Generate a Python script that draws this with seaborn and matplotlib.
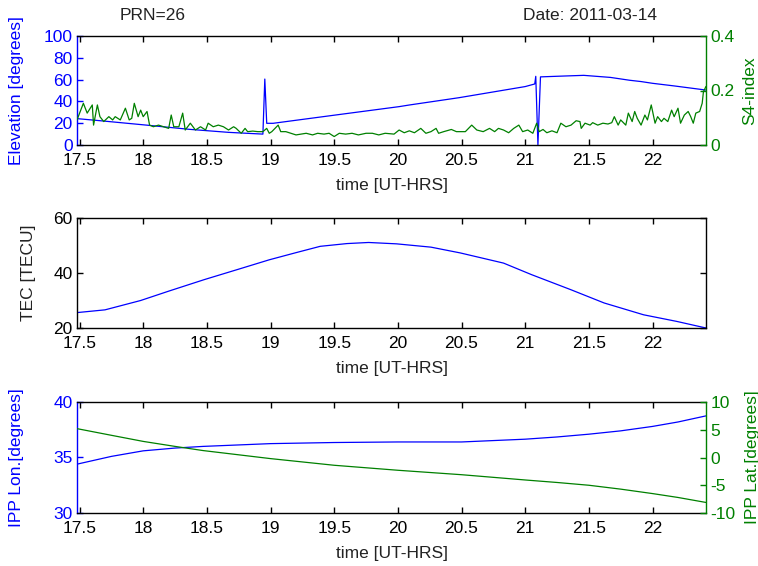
import matplotlib
matplotlib.use("Agg")
import matplotlib.pyplot as plt
import seaborn as sns

# ---- labels -------------------------------------------------------------
prn_label = "PRN=26"
date_label = "Date: 2011-03-14"
x_label = "time [UT-HRS]"
x_ticks = [17.5, 18, 18.5, 19, 19.5, 20, 20.5, 21, 21.5, 22]

# ---- satellite elevation (degrees) --------------------------------------
elev_time = [17.48, 17.66, 18.02, 18.36, 18.67, 18.94, 18.955, 18.97,
             19.02, 19.51, 20.01, 20.09, 20.48, 21.0, 21.075, 21.083,
             21.10, 21.12, 21.31, 21.46, 21.67, 21.82, 21.91, 22.0,
             22.17, 22.42]
elev_deg = [24.2, 22.3, 18.3, 14.4, 11.6, 10.0, 60.5, 19.9,
            19.9, 27.5, 35.2, 36.7, 43.4, 53.6, 56.0, 63.0,
            0.0, 62.5, 63.3, 63.9, 62.0, 59.4, 58.2, 56.6,
            54.2, 50.4]

# ---- S4 scintillation index ----------------------------------------------
s4_time = [17.48, 17.53, 17.56, 17.60, 17.61, 17.64, 17.66, 17.69, 17.73,
           17.76, 17.78, 17.82, 17.86, 17.89, 17.91, 17.93, 17.96, 17.98,
           18.00, 18.03, 18.05, 18.08, 18.12, 18.16, 18.20, 18.22, 18.24,
           18.28, 18.31, 18.33, 18.37, 18.41, 18.45, 18.49, 18.51, 18.55,
           18.59, 18.63, 18.67, 18.71, 18.73, 18.77, 18.80, 18.82, 18.86,
           18.90, 18.94, 18.97, 18.99, 19.01, 19.06, 19.08, 19.12, 19.16,
           19.20, 19.24, 19.28, 19.33, 19.37, 19.42, 19.46, 19.50, 19.54,
           19.59, 19.64, 19.69, 19.75, 19.80, 19.85, 19.90, 19.97, 20.01,
           20.05, 20.09, 20.13, 20.18, 20.22, 20.26, 20.30, 20.32, 20.36,
           20.42, 20.46, 20.53, 20.58, 20.62, 20.67, 20.72, 20.76, 20.79,
           20.83, 20.87, 20.91, 20.95, 20.98, 21.02, 21.06, 21.09, 21.11,
           21.14, 21.17, 21.21, 21.25, 21.28, 21.32, 21.36, 21.40, 21.43,
           21.44, 21.47, 21.51, 21.53, 21.57, 21.61, 21.65, 21.68, 21.70,
           21.73, 21.75, 21.79, 21.81, 21.84, 21.86, 21.88, 21.91, 21.94,
           21.96, 21.99, 22.02, 22.04, 22.07, 22.09, 22.12, 22.15, 22.17,
           22.20, 22.22, 22.25, 22.28, 22.30, 22.32, 22.34, 22.37, 22.39,
           22.40, 22.42]
s4_val = [0.092, 0.153, 0.117, 0.147, 0.073, 0.147, 0.104, 0.086, 0.104,
          0.092, 0.104, 0.092, 0.135, 0.092, 0.098, 0.153, 0.104, 0.128,
          0.104, 0.123, 0.073, 0.067, 0.073, 0.067, 0.061, 0.110, 0.067,
          0.067, 0.117, 0.055, 0.080, 0.055, 0.067, 0.055, 0.080, 0.067,
          0.073, 0.067, 0.055, 0.067, 0.061, 0.043, 0.061, 0.049, 0.051,
          0.049, 0.049, 0.061, 0.043, 0.049, 0.073, 0.049, 0.049, 0.043,
          0.037, 0.040, 0.043, 0.037, 0.043, 0.040, 0.043, 0.031, 0.043,
          0.040, 0.043, 0.037, 0.043, 0.043, 0.037, 0.043, 0.040, 0.055,
          0.045, 0.052, 0.045, 0.061, 0.043, 0.049, 0.061, 0.043, 0.049,
          0.057, 0.049, 0.049, 0.073, 0.055, 0.049, 0.061, 0.049, 0.061,
          0.055, 0.045, 0.061, 0.073, 0.049, 0.055, 0.043, 0.080, 0.049,
          0.057, 0.045, 0.052, 0.045, 0.080, 0.067, 0.073, 0.089, 0.086,
          0.061, 0.080, 0.073, 0.082, 0.073, 0.080, 0.077, 0.082, 0.104,
          0.073, 0.092, 0.073, 0.117, 0.086, 0.123, 0.098, 0.073, 0.110,
          0.092, 0.147, 0.080, 0.104, 0.086, 0.098, 0.086, 0.128, 0.104,
          0.135, 0.080, 0.110, 0.123, 0.104, 0.080, 0.117, 0.123, 0.153,
          0.196, 0.215]

# ---- total electron content (TECU) ---------------------------------------
tec_time = [17.48, 17.70, 17.98, 18.20, 18.48, 18.75, 18.99, 19.20, 19.39,
            19.60, 19.77, 19.99, 20.26, 20.49, 20.83, 21.05, 21.36, 21.62,
            21.93, 22.19, 22.42]
tec_val = [25.6, 26.6, 30.0, 33.4, 37.6, 41.4, 44.8, 47.4, 49.7,
           50.7, 51.1, 50.6, 49.4, 47.3, 43.6, 39.4, 33.9, 29.1,
           24.8, 22.4, 20.0]

# ---- ionospheric pierce point (degrees) ----------------------------------
ipp_time = [17.48, 17.75, 18.0, 18.25, 18.47, 19.0, 19.5, 20.0, 20.5,
            21.0, 21.25, 21.5, 21.75, 22.0, 22.2, 22.42]
ipp_lon = [34.4, 35.1, 35.6, 35.85, 36.0, 36.25, 36.35, 36.4, 36.4,
           36.65, 36.85, 37.1, 37.4, 37.8, 38.2, 38.75]
ipp_lat = [5.2, 4.0, 2.9, 2.0, 1.25, -0.2, -1.4, -2.3, -3.1,
           -4.05, -4.5, -5.0, -5.7, -6.5, -7.2, -8.1]

# ---- styling --------------------------------------------------------------
BLUE = (0.0, 0.0, 1.0)
GREEN = (0.0, 0.5, 0.0)
FS = 12.5

sns.set_theme(style="white")
plt.rcParams["font.family"] = ["Liberation Sans", "DejaVu Sans"]
plt.rcParams["axes.unicode_minus"] = False
plt.rcParams["axes.linewidth"] = 1.0
plt.rcParams["axes.edgecolor"] = "black"

W, H = 758, 566
fig = plt.figure(figsize=(W / 100, H / 100), dpi=100)
fig.patch.set_facecolor("white")


def px_axes(left, top, right, bottom):
    return fig.add_axes([left / W, 1 - bottom / H, (right - left) / W,
                         (bottom - top) / H])


def style_time_axis(ax):
    ax.set_xlim(17.48, 22.42)
    ax.set_xticks(x_ticks)
    ax.set_xticklabels([f"{v:g}" for v in x_ticks])
    ax.tick_params(axis="x", direction="in", top=True, bottom=True,
                   length=4, width=1, labelsize=FS, pad=6, colors="black")
    ax.set_xlabel(x_label, fontsize=FS, labelpad=7, color="#222222")


def style_left(ax, color):
    ax.tick_params(axis="y", direction="in", left=True, right=True,
                   length=4, width=1, labelsize=FS, pad=3, color=color,
                   labelcolor=color)
    ax.spines["left"].set_color(color)


def style_right(tw, color):
    tw.tick_params(axis="y", direction="in", right=True, left=False,
                   length=4, width=1, labelsize=FS, pad=3, color=color,
                   labelcolor=color)
    for side in ("left", "top", "bottom"):
        tw.spines[side].set_visible(False)
    tw.spines["right"].set_color(color)


LINE = dict(estimator=None, sort=False, linewidth=0.9)

# ---- panel 1: elevation and S4 -------------------------------------------
ax1 = px_axes(77, 36, 706, 145)
sns.lineplot(x=elev_time, y=elev_deg, ax=ax1, color=BLUE, **LINE)
ax1.set_ylim(0, 100)
ax1.set_yticks([0, 20, 40, 60, 80, 100])
style_left(ax1, BLUE)
style_time_axis(ax1)
ax1.spines["right"].set_visible(False)

tw1 = ax1.twinx()
sns.lineplot(x=s4_time, y=s4_val, ax=tw1, color=GREEN, **LINE)
tw1.set_ylim(0, 0.4)
tw1.set_yticks([0, 0.2, 0.4])
tw1.set_yticklabels(["0", "0.2", "0.4"])
tw1.set_xlim(17.48, 22.42)
style_right(tw1, GREEN)
tw1.set_ylabel("")

# ---- panel 2: TEC ----------------------------------------------------------
ax2 = px_axes(77, 218, 706, 328)
sns.lineplot(x=tec_time, y=tec_val, ax=ax2, color=BLUE, **LINE)
ax2.set_ylim(20, 60)
ax2.set_yticks([20, 40, 60])
ax2.tick_params(axis="y", direction="in", left=True, right=True, length=4,
                width=1, labelsize=FS, pad=3, colors="black")
style_time_axis(ax2)

# ---- panel 3: IPP longitude and latitude ---------------------------------
ax3 = px_axes(77, 402, 706, 513)
sns.lineplot(x=ipp_time, y=ipp_lon, ax=ax3, color=BLUE, **LINE)
ax3.set_ylim(30, 40)
ax3.set_yticks([30, 35, 40])
style_left(ax3, BLUE)
style_time_axis(ax3)
ax3.spines["right"].set_visible(False)

tw3 = ax3.twinx()
sns.lineplot(x=ipp_time, y=ipp_lat, ax=tw3, color=GREEN, **LINE)
tw3.set_ylim(-10, 10)
tw3.set_yticks([-10, -5, 0, 5, 10])
tw3.set_xlim(17.48, 22.42)
style_right(tw3, GREEN)
tw3.set_ylabel("")

for ax in (ax1, ax2, ax3):
    ax.set_ylabel("")

# ---- axis titles and header -----------------------------------------------
def ylab(x, y, text, color):
    fig.text(x / W, 1 - y / H, text, rotation=90, ha="center", va="center",
             fontsize=FS, color=color)

ylab(17, 90.5, "Elevation [degrees]", BLUE)
ylab(750, 90.5, "S4-index", GREEN)
ylab(28, 273, "TEC [TECU]", "#222222")
ylab(17, 457.5, "IPP Lon.[degrees]", BLUE)
ylab(752, 457.5, "IPP Lat.[degrees]", GREEN)

fig.text(152.5 / W, 1 - 15 / H, prn_label, ha="center", va="center",
         fontsize=FS, color="#222222")
fig.text(590 / W, 1 - 15 / H, date_label, ha="center", va="center",
         fontsize=FS, color="#222222")

fig.savefig("out.png", dpi=100, facecolor="white")
